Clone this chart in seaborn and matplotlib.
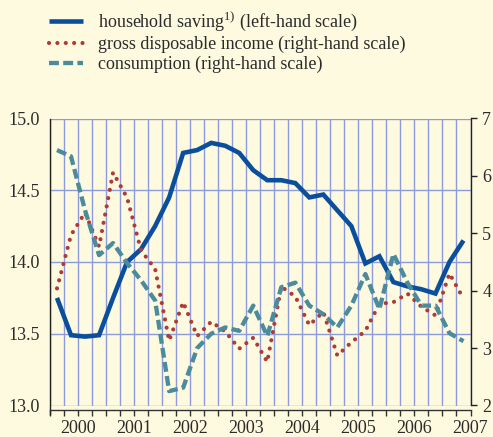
import numpy as np
import pandas as pd
import matplotlib
matplotlib.use("Agg")
import matplotlib.pyplot as plt
import seaborn as sns
from matplotlib.ticker import FixedLocator, NullFormatter, FixedFormatter

# ---- data (quarterly, 2000Q1 - 2007Q2) ----
quarters = [f"{y}Q{q}" for y in range(2000, 2008) for q in range(1, 5)][:30]
saving = [13.75, 13.49, 13.48, 13.49,
          13.75, 14.00, 14.09, 14.25,
          14.45, 14.76, 14.78, 14.83,
          14.81, 14.76, 14.64, 14.57,
          14.57, 14.55, 14.45, 14.47,
          14.36, 14.25, 13.99, 14.04,
          13.86, 13.83, 13.81, 13.78,
          14.00, 14.15]
income = [4.04, 4.97, 5.36, 4.77,
          6.06, 5.62, 4.70, 4.38,
          3.13, 3.80, 3.21, 3.46,
          3.29, 2.99, 3.18, 2.76,
          4.07, 3.90, 3.40, 3.63,
          2.87, 3.10, 3.30, 3.77,
          3.80, 3.95, 3.72, 3.57,
          4.30, 3.86]
consumption = [6.45, 6.34, 5.40, 4.62,
               4.83, 4.48, 4.18, 3.83,
               2.25, 2.31, 3.00, 3.25,
               3.36, 3.30, 3.74, 3.21,
               4.06, 4.14, 3.74, 3.59,
               3.36, 3.74, 4.29, 3.68,
               4.64, 4.14, 3.74, 3.74,
               3.26, 3.12]
years = list(range(2000, 2008))
year_labels = [str(y) for y in years]
left_ticks = [13.0, 13.5, 14.0, 14.5, 15.0]
right_ticks = [2, 3, 4, 5, 6, 7]
labels = ["household saving$^{1)}$ (left-hand scale)",
          "gross disposable income (right-hand scale)",
          "consumption (right-hand scale)"]

per = pd.PeriodIndex(quarters, freq="Q")
t = (per.year - 2000) + (per.quarter - 0.5) / 4.0
df = pd.DataFrame({"t": t, "saving": saving, "income": income,
                   "consumption": consumption})

# ---- style ----
BG = "#fdfadf"
GRID = "#8d9bdb"
TXT = "#2b2b2b"
BLUE = "#0b4f9c"
RED = "#b23a35"
TEAL = "#4b8b9c"
FS = 13.0

sns.set_style("white")
plt.rcParams["font.family"] = ["Liberation Serif", "DejaVu Serif"]
plt.rcParams["mathtext.fontset"] = "custom"
plt.rcParams["mathtext.rm"] = "Liberation Serif"
plt.rcParams["mathtext.it"] = "Liberation Serif"
plt.rcParams["text.color"] = TXT

W, H = 493, 437
fig = plt.figure(figsize=(W / 100, H / 100), dpi=100, facecolor=BG)
x0, x1, ytop, ybot = 50, 470.5, 118.5, 405.5
ax = fig.add_axes([x0 / W, 1 - ybot / H, (x1 - x0) / W, (ybot - ytop) / H])
ax.set_facecolor(BG)
ax2 = ax.twinx()

sns.lineplot(data=df, x="t", y="saving", ax=ax, color=BLUE, linewidth=3.3,
             label=labels[0], legend=False)
sns.lineplot(data=df, x="t", y="income", ax=ax2, color=RED, linewidth=3.0,
             label=labels[1], legend=False)
sns.lineplot(data=df, x="t", y="consumption", ax=ax2, color=TEAL, linewidth=3.1,
             label=labels[2], legend=False)
l_sav = ax.lines[-1]
l_inc, l_con = ax2.lines[-2], ax2.lines[-1]
l_sav.set_solid_capstyle("butt")
l_sav.set_solid_joinstyle("miter")
l_inc.set_linestyle((0, (0.01, 2.0)))
l_inc.set_dash_capstyle("round")
l_con.set_linestyle((0, (2.3, 1.0)))
l_con.set_dash_capstyle("butt")

ax.set_xlim(0, 7.5)
ax.set_ylim(13.0, 15.0)
ax2.set_ylim(2, 7)

# grid / ticks
ax.xaxis.remove_overlapping_locs = False
ax.xaxis.set_major_locator(FixedLocator(np.arange(0, 7.51, 0.25)))
ax.xaxis.set_major_formatter(NullFormatter())
ax.xaxis.set_minor_locator(FixedLocator(np.arange(len(years)) + 0.5))
ax.xaxis.set_minor_formatter(FixedFormatter(year_labels))
ax.set_yticks(left_ticks)
ax.set_yticklabels([f"{v:.1f}" for v in left_ticks])
ax2.set_yticks(right_ticks)
ax2.set_yticklabels([str(v) for v in right_ticks])
ax.grid(True, which="major", color=GRID, linewidth=1.0)
ax.set_axisbelow(True)

ax.set_xlabel("")
ax.set_ylabel("")
ax2.set_ylabel("")

ax.spines["top"].set_visible(False)
ax2.spines["top"].set_visible(False)
ax.spines["right"].set_visible(False)
ax2.spines["left"].set_visible(False)
ax2.spines["bottom"].set_visible(False)
ax.spines["left"].set_color("#222222")
ax.spines["left"].set_linewidth(1.0)
ax.spines["left"].set_bounds(12.944, 15.0)
ax.spines["bottom"].set_position(("outward", 3))
ax.spines["bottom"].set_color("#333333")
ax.spines["bottom"].set_linewidth(1.0)
ax2.spines["right"].set_color("#222222")
ax2.spines["right"].set_linewidth(1.0)

ax.tick_params(axis="x", which="major", direction="out", length=4, width=1.0,
               color="#333333", bottom=True)
ax.tick_params(axis="x", which="minor", length=0, pad=7.5, labelsize=FS,
               labelcolor=TXT, bottom=True, labelbottom=True)
ax.tick_params(axis="y", length=0, pad=7, labelsize=FS, labelcolor=TXT, left=True)
ax2.tick_params(axis="y", direction="out", length=4, width=1.0, color="#222222",
                pad=4.5, labelsize=FS, labelcolor=TXT, right=True)

# legend
fig.legend(handles=[l_sav, l_inc, l_con], labels=labels, loc="upper left",
           bbox_to_anchor=(49 / W, 1 - 10 / H), frameon=False, fontsize=FS,
           handlelength=1.9, handletextpad=0.83, labelspacing=0.14,
           borderaxespad=0, borderpad=0)

fig.savefig("out.png", dpi=100, facecolor=BG)
